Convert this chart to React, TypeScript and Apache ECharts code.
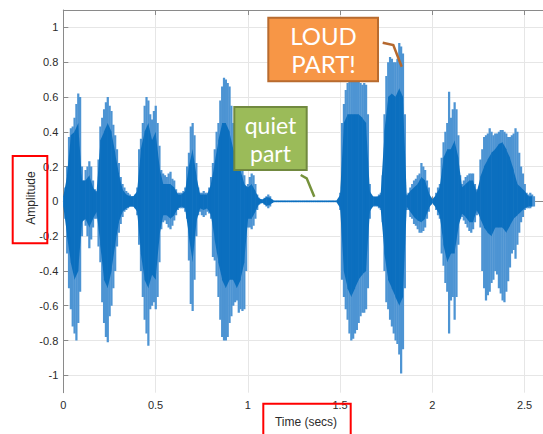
import React, { useEffect, useRef } from "react";
import * as echarts from "echarts";

const OUT_STEP = 0.01;
const OUT_HI = [
  0.03, 0.08, 0.2, 0.37, 0.42, 0.43, 0.48, 0.56, 0.62, 0.6,
  0.2, 0.12, 0.18, 0.2, 0.23, 0.2, 0.12, 0.07, 0.06, 0.24,
  0.43, 0.48, 0.53, 0.57, 0.6, 0.55, 0.52, 0.44, 0.38, 0.3,
  0.22, 0.14, 0.1, 0.08, 0.06, 0.05, 0.04, 0.03, 0.03, 0.04,
  0.08, 0.3, 0.36, 0.45, 0.55, 0.6, 0.58, 0.5, 0.47, 0.52,
  0.55, 0.45, 0.32, 0.18, 0.16, 0.15, 0.14, 0.16, 0.17, 0.13,
  0.12, 0.07, 0.05, 0.05, 0.05, 0.06, 0.08, 0.2, 0.28, 0.43,
  0.45, 0.38, 0.22, 0.08, 0.05, 0.05, 0.06, 0.05, 0.05, 0.08,
  0.14, 0.22, 0.3, 0.4, 0.45, 0.58, 0.66, 0.71, 0.7, 0.68,
  0.66, 0.55, 0.45, 0.4, 0.38, 0.33, 0.27, 0.22, 0.15, 0.08,
  0.1, 0.14, 0.16, 0.15, 0.1, 0.04, 0.02, 0.01, 0.01, 0.02,
  0.03, 0.04, 0.03, 0.01, 0.005, 0.005, 0.005, 0.005, 0.005, 0.005,
  0.005, 0.005, 0.005, 0.005, 0.005, 0.005, 0.005, 0.005, 0.005, 0.005,
  0.005, 0.005, 0.005, 0.005, 0.005, 0.005, 0.005, 0.005, 0.005, 0.005,
  0.005, 0.005, 0.005, 0.005, 0.005, 0.005, 0.005, 0.005, 0.005, 0.005,
  0.05, 0.45, 0.56, 0.64, 0.68, 0.72, 0.7, 0.72, 0.7, 0.72,
  0.7, 0.68, 0.67, 0.68, 0.67, 0.5, 0.1, 0.03, 0.03, 0.03,
  0.03, 0.04, 0.05, 0.15, 0.5, 0.72, 0.8, 0.83, 0.82, 0.8,
  0.8, 0.82, 0.91, 0.89, 0.85, 0.5, 0.04, 0.05, 0.08, 0.1,
  0.12, 0.13, 0.15, 0.16, 0.22, 0.2, 0.18, 0.12, 0.08, 0.02,
  0.01, 0.02, 0.05, 0.08, 0.1, 0.25, 0.34, 0.4, 0.45, 0.63,
  0.48, 0.53, 0.57, 0.53, 0.38, 0.15, 0.1, 0.12, 0.14, 0.15,
  0.16, 0.16, 0.16, 0.1, 0.07, 0.05, 0.24, 0.3, 0.37, 0.38,
  0.39, 0.42, 0.4, 0.38, 0.39, 0.39, 0.4, 0.41, 0.41, 0.4,
  0.39, 0.37, 0.37, 0.38, 0.39, 0.42, 0.4, 0.28, 0.2, 0.16,
  0.1, 0.05, 0.04, 0.05, 0.04, 0.03,
];
const OUT_LO = [
  -0.03, -0.1, -0.3, -0.5, -0.62, -0.72, -0.76, -0.8, -0.7, -0.52,
  -0.2, -0.1, -0.14, -0.2, -0.27, -0.22, -0.15, -0.1, -0.1, -0.26,
  -0.35, -0.58, -0.7, -0.78, -0.81, -0.66, -0.6, -0.5, -0.4, -0.26,
  -0.18, -0.13, -0.09, -0.06, -0.05, -0.04, -0.03, -0.03, -0.03, -0.04,
  -0.08, -0.25, -0.4, -0.55, -0.68, -0.76, -0.83, -0.62, -0.6, -0.58,
  -0.62, -0.55, -0.35, -0.16, -0.12, -0.11, -0.13, -0.15, -0.16, -0.14,
  -0.11, -0.08, -0.05, -0.04, -0.04, -0.04, -0.06, -0.1, -0.34, -0.59,
  -0.63, -0.45, -0.2, -0.08, -0.06, -0.08, -0.09, -0.08, -0.06, -0.07,
  -0.1, -0.32, -0.34, -0.43, -0.55, -0.68, -0.78, -0.8, -0.8, -0.78,
  -0.7, -0.66, -0.6, -0.58, -0.57, -0.64, -0.62, -0.63, -0.62, -0.4,
  -0.15, -0.15, -0.16, -0.14, -0.1, -0.05, -0.02, -0.01, -0.01, -0.02,
  -0.03, -0.04, -0.03, -0.01, -0.005, -0.005, -0.005, -0.005, -0.005, -0.005,
  -0.005, -0.005, -0.005, -0.005, -0.005, -0.005, -0.005, -0.005, -0.005, -0.005,
  -0.005, -0.005, -0.005, -0.005, -0.005, -0.005, -0.005, -0.005, -0.005, -0.005,
  -0.005, -0.005, -0.005, -0.005, -0.005, -0.005, -0.005, -0.005, -0.005, -0.005,
  -0.05, -0.45, -0.55, -0.62, -0.68, -0.76, -0.8, -0.79, -0.76, -0.74,
  -0.7, -0.66, -0.64, -0.64, -0.62, -0.5, -0.1, -0.03, -0.03, -0.03,
  -0.03, -0.04, -0.05, -0.12, -0.4, -0.58, -0.62, -0.68, -0.72, -0.76,
  -0.8, -0.82, -0.88, -0.99, -0.85, -0.5, -0.05, -0.05, -0.09, -0.1,
  -0.13, -0.14, -0.16, -0.18, -0.18, -0.17, -0.15, -0.1, -0.06, -0.02,
  -0.01, -0.02, -0.05, -0.08, -0.1, -0.3, -0.37, -0.47, -0.52, -0.76,
  -0.57, -0.55, -0.68, -0.55, -0.25, -0.1, -0.09, -0.11, -0.13, -0.15,
  -0.17, -0.18, -0.16, -0.12, -0.08, -0.06, -0.15, -0.4, -0.5, -0.57,
  -0.54, -0.52, -0.47, -0.45, -0.4, -0.42, -0.5, -0.53, -0.57, -0.58,
  -0.52, -0.46, -0.38, -0.3, -0.28, -0.33, -0.25, -0.18, -0.12, -0.09,
  -0.05, -0.04, -0.04, -0.04, -0.03, -0.03,
];

// Dense core of the waveform (dark blue), sampled every 0.02 s
const IN_STEP = 0.02;
const IN_HI = [
  0.03, 0.15, 0.38, 0.4, 0.45, 0.12, 0.12, 0.15, 0.08, 0.05,
  0.35, 0.4, 0.45, 0.4, 0.28, 0.16, 0.07, 0.04, 0.03, 0.03,
  0.06, 0.3, 0.4, 0.45, 0.35, 0.4, 0.2, 0.1, 0.1, 0.1,
  0.08, 0.04, 0.04, 0.06, 0.2, 0.3, 0.15, 0.04, 0.04, 0.04,
  0.1, 0.22, 0.35, 0.45, 0.45, 0.4, 0.3, 0.25, 0.18, 0.1,
  0.08, 0.1, 0.06, 0.015, 0.01, 0.025, 0.02, 0.004, 0.004, 0.004,
  0.004, 0.004, 0.004, 0.004, 0.004, 0.004, 0.004, 0.004, 0.004, 0.004,
  0.004, 0.004, 0.004, 0.004, 0.004, 0.04, 0.45, 0.5, 0.5, 0.5,
  0.5, 0.48, 0.45, 0.06, 0.025, 0.025, 0.04, 0.4, 0.6, 0.62,
  0.6, 0.65, 0.6, 0.03, 0.06, 0.08, 0.1, 0.14, 0.12, 0.05,
  0.01, 0.04, 0.08, 0.25, 0.3, 0.3, 0.35, 0.25, 0.08, 0.1,
  0.12, 0.12, 0.05, 0.14, 0.2, 0.24, 0.28, 0.3, 0.33, 0.34,
  0.3, 0.25, 0.18, 0.1, 0.08, 0.06, 0.03, 0.03,
];
const IN_LO = [
  -0.03, -0.2, -0.35, -0.45, -0.4, -0.12, -0.1, -0.15, -0.1, -0.06,
  -0.25, -0.45, -0.5, -0.4, -0.25, -0.12, -0.06, -0.04, -0.03, -0.03,
  -0.06, -0.3, -0.45, -0.5, -0.42, -0.45, -0.2, -0.08, -0.08, -0.1,
  -0.08, -0.04, -0.03, -0.04, -0.2, -0.35, -0.12, -0.04, -0.05, -0.04,
  -0.08, -0.22, -0.35, -0.45, -0.5, -0.45, -0.45, -0.5, -0.45, -0.35,
  -0.1, -0.1, -0.06, -0.015, -0.01, -0.025, -0.02, -0.004, -0.004, -0.004,
  -0.004, -0.004, -0.004, -0.004, -0.004, -0.004, -0.004, -0.004, -0.004, -0.004,
  -0.004, -0.004, -0.004, -0.004, -0.004, -0.04, -0.4, -0.5, -0.55, -0.5,
  -0.45, -0.42, -0.4, -0.06, -0.025, -0.025, -0.04, -0.3, -0.45, -0.5,
  -0.55, -0.6, -0.55, -0.03, -0.06, -0.09, -0.11, -0.12, -0.1, -0.04,
  -0.01, -0.04, -0.08, -0.25, -0.35, -0.3, -0.3, -0.15, -0.07, -0.09,
  -0.12, -0.12, -0.05, -0.1, -0.15, -0.18, -0.2, -0.15, -0.15, -0.15,
  -0.18, -0.14, -0.1, -0.08, -0.06, -0.04, -0.03, -0.03,
];

const X_TICKS = [0, 0.5, 1, 1.5, 2, 2.5];
const Y_TICKS = [-1, -0.8, -0.6, -0.4, -0.2, 0, 0.2, 0.4, 0.6, 0.8, 1];
const X_NAME = "Time (secs)";
const Y_NAME = "Amplitude";
const NOTE_LOUD = "LOUD\nPART!";
const NOTE_QUIET = "quiet\npart";

const AXIS_COLOR = "#8a8a8a";
const LABEL_COLOR = "#2b2b2b";
const SPLIT_COLOR = "#e6e6e6";
const FONT = "'Liberation Sans', Arial, Helvetica, sans-serif";

// Outer envelope: one vertical bar per sample (gives the striated look)
function barBand(name: string, step: number, hi: number[], lo: number[], color: string, z: number) {
  const data = hi.map((h, i) => [Number((i * step).toFixed(2)), h, lo[i]]);
  const half = step / 2;
  return {
    type: "custom",
    name,
    z,
    clip: true,
    silent: true,
    encode: { x: 0, y: [1, 2] },
    data,
    renderItem: (_params: any, api: any) => {
      const t = api.value(0);
      const p0 = api.coord([t - half, api.value(1)]);
      const p1 = api.coord([t + half, api.value(2)]);
      return {
        type: "rect",
        shape: {
          x: p0[0],
          y: p0[1],
          width: Math.max(p1[0] - p0[0], 0.5) + 0.4,
          height: Math.max(p1[1] - p0[1], 1.2),
        },
        style: { fill: color },
      };
    },
  };
}

// Inner core: polygon joining consecutive samples
function polyBand(name: string, step: number, hi: number[], lo: number[], color: string, z: number) {
  const times = hi.map((_, i) => Number((i * step).toFixed(2)));
  const data = hi.map((h, i) => [times[i], h, lo[i]]);
  return {
    type: "custom",
    name,
    z,
    clip: true,
    silent: true,
    encode: { x: 0, y: [1, 2] },
    data,
    renderItem: (params: any, api: any) => {
      const i = params.dataIndex;
      if (i >= hi.length - 1) return null;
      const a = api.coord([times[i], hi[i]]);
      const b = api.coord([times[i + 1], hi[i + 1]]);
      const c = api.coord([times[i + 1], lo[i + 1]]);
      const d = api.coord([times[i], lo[i]]);
      return {
        type: "polygon",
        shape: { points: [a, [b[0] + 0.3, b[1]], [c[0] + 0.3, c[1]], d] },
        style: { fill: color },
      };
    },
  };
}

export default function App() {
  const ref = useRef<HTMLDivElement>(null);

  useEffect(() => {
    document.body.style.margin = "0";
    if (!ref.current) return;
    const chart = echarts.init(ref.current, null, { renderer: "svg" });

    const option: any = {
      animation: false,
      backgroundColor: "#ffffff",
      grid: { left: 63.3, top: 10, right: -7.3, bottom: 41.3 },
      xAxis: [
        {
          type: "value",
          min: 0,
          max: 2.6,
          position: "bottom",
          axisLine: { show: true, lineStyle: { color: AXIS_COLOR, width: 1 } },
          axisTick: { show: true, inside: true, length: 5, customValues: X_TICKS, lineStyle: { color: AXIS_COLOR } },
          axisLabel: {
            customValues: X_TICKS,
            color: LABEL_COLOR,
            fontSize: 11,
            fontFamily: FONT,
            margin: 7,
            formatter: (v: number) => String(v),
          },
          splitLine: { show: true, lineStyle: { color: SPLIT_COLOR, width: 1 } },
        },
        {
          type: "value",
          min: 0,
          max: 2.6,
          position: "top",
          axisLine: { show: true, lineStyle: { color: AXIS_COLOR, width: 1 } },
          axisTick: { show: true, inside: true, length: 5, customValues: X_TICKS, lineStyle: { color: AXIS_COLOR } },
          axisLabel: { show: false },
          splitLine: { show: false },
        },
      ],
      yAxis: {
        type: "value",
        min: -1.1,
        max: 1.1,
        axisLine: { show: true, lineStyle: { color: AXIS_COLOR, width: 1 } },
        axisTick: { show: true, inside: true, length: 5, customValues: Y_TICKS, lineStyle: { color: AXIS_COLOR } },
        axisLabel: {
          customValues: Y_TICKS,
          color: LABEL_COLOR,
          fontSize: 11,
          fontFamily: FONT,
          margin: 5,
          formatter: (v: number) => String(v),
        },
        splitLine: { show: true, lineStyle: { color: SPLIT_COLOR, width: 1 } },
      },
      series: [
        barBand("envelope", OUT_STEP, OUT_HI, OUT_LO, "#4d94d3", 2),
        polyBand("core", IN_STEP, IN_HI, IN_LO, "#0b6fbf", 3),
      ],
      graphic: [
        {
          type: "text",
          x: 30.5,
          y: 198,
          rotation: Math.PI / 2,
          z: 50,
          style: {
            text: Y_NAME,
            fill: LABEL_COLOR,
            font: `12px ${FONT}`,
            align: "center",
            verticalAlign: "middle",
          },
        },
        {
          type: "text",
          x: 306,
          y: 421.5,
          z: 50,
          style: {
            text: X_NAME,
            fill: LABEL_COLOR,
            font: `12px ${FONT}`,
            align: "center",
            verticalAlign: "middle",
          },
        },
        {
          type: "rect",
          z: 60,
          shape: { x: 12.7, y: 156, width: 34.6, height: 87.3 },
          style: { fill: "none", stroke: "#ff0000", lineWidth: 2 },
        },
        {
          type: "rect",
          z: 60,
          shape: { x: 263.3, y: 403.7, width: 87.4, height: 40 },
          style: { fill: "none", stroke: "#ff0000", lineWidth: 2 },
        },
        {
          type: "polyline",
          z: 60,
          shape: { points: [[382.7, 42.7], [393.3, 45], [401.7, 66.7]] },
          style: { fill: "none", stroke: "#b5682e", lineWidth: 2.5 },
        },
        {
          type: "rect",
          z: 61,
          shape: { x: 268.3, y: 17.7, width: 109.7, height: 63.6 },
          style: { fill: "#f79646", stroke: "#b86b2f", lineWidth: 2 },
        },
        {
          type: "text",
          z: 62,
          x: 323.5,
          y: 49.5,
          style: {
            text: NOTE_LOUD,
            fill: "#ffffff",
            font: "24px Lato, 'Open Sans', sans-serif",
            lineHeight: 28.5,
            align: "center",
            verticalAlign: "middle",
          },
        },
        {
          type: "polyline",
          z: 60,
          shape: { points: [[300.7, 175], [306.7, 178.3], [314.3, 196.7]] },
          style: { fill: "none", stroke: "#76923c", lineWidth: 2.5 },
        },
        {
          type: "rect",
          z: 61,
          shape: { x: 234.3, y: 107, width: 72.4, height: 63 },
          style: { fill: "#9bbb59", stroke: "#71893f", lineWidth: 2 },
        },
        {
          type: "text",
          z: 62,
          x: 270.5,
          y: 138.5,
          style: {
            text: NOTE_QUIET,
            fill: "#ffffff",
            font: "23px Lato, 'Open Sans', sans-serif",
            lineHeight: 28,
            align: "center",
            verticalAlign: "middle",
          },
        },
      ],
    };

    chart.setOption(option);
    return () => chart.dispose();
  }, []);

  return <div ref={ref} style={{ width: 543, height: 434 }} />;
}
